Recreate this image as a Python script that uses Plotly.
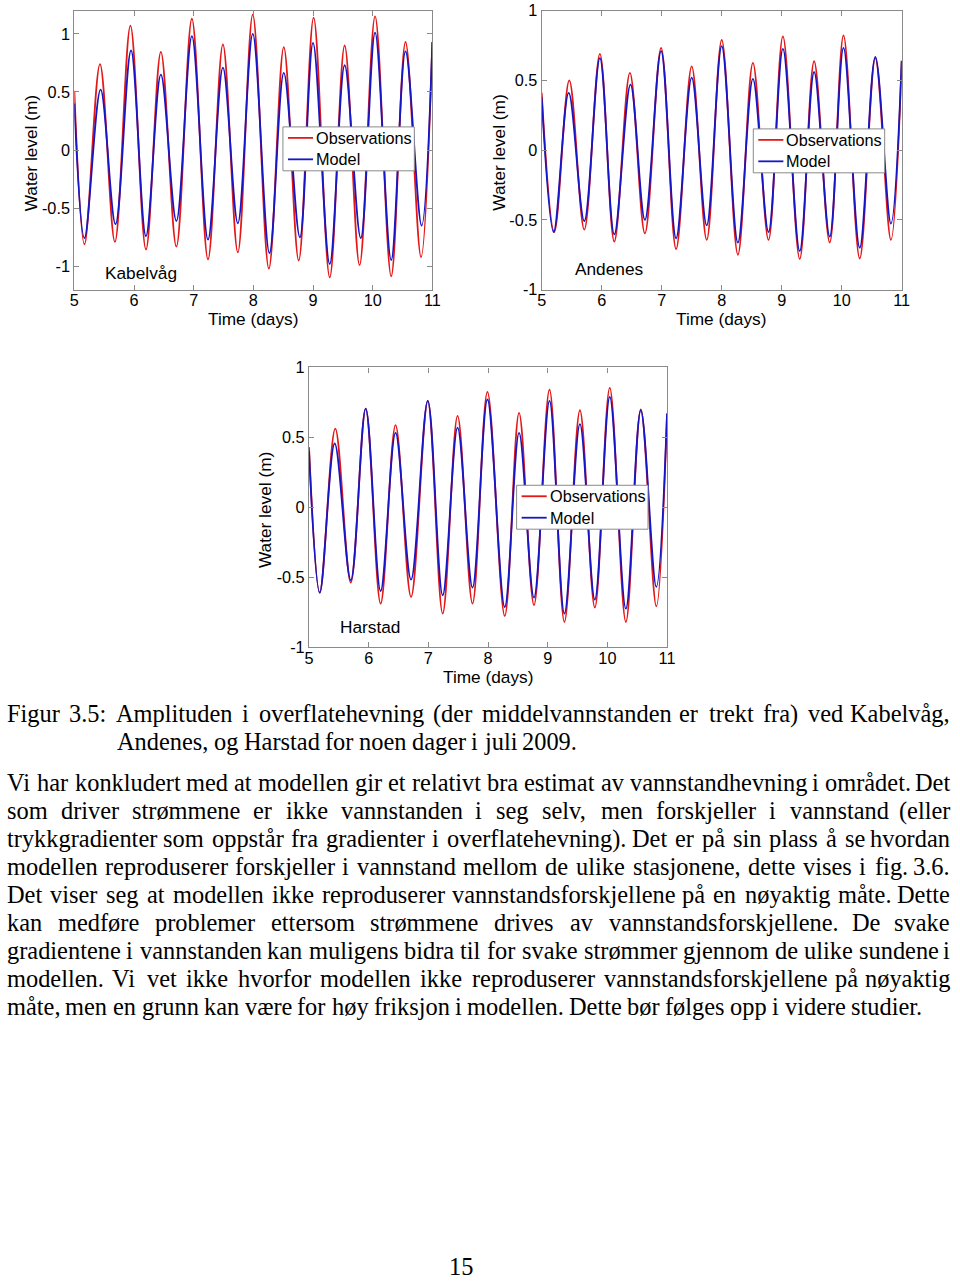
import plotly.graph_objects as go

# ---------------- data (extrema of the tidal curves) -------------
time_ticks = [5, 6, 7, 8, 9, 10, 11]
y_ticks = [-1, -0.5, 0, 0.5, 1]
y_tick_text = ["-1", "-0.5", "0", "0.5", "1"]

kab_obs_t = [5.00, 5.17, 5.43, 5.68, 5.94, 6.20, 6.45, 6.71, 6.97, 7.24, 7.49, 7.74, 7.99,
             8.26, 8.51, 8.76, 9.01, 9.28, 9.53, 9.78, 10.04, 10.31, 10.55, 10.81, 11.00]
kab_obs_v = [0.51, -0.81, 0.74, -0.79, 1.07, -0.855, 0.845, -0.83, 1.13, -0.94, 0.91, -0.88, 1.165,
             -1.02, 0.885, -0.95, 1.14, -1.095, 0.90, -0.99, 1.15, -1.085, 0.93, -0.92, 0.93]
kab_mod_t = [5.00, 5.17, 5.44, 5.69, 5.95, 6.20, 6.45, 6.71, 6.97, 7.24, 7.49, 7.74, 7.99,
             8.27, 8.51, 8.78, 9.00, 9.28, 9.53, 9.80, 10.04, 10.31, 10.55, 10.82, 11.00]
kab_mod_v = [0.40, -0.757, 0.52, -0.637, 0.857, -0.74, 0.65, -0.61, 0.98, -0.77, 0.71, -0.63, 1.00,
             -0.885, 0.665, -0.75, 0.923, -0.98, 0.73, -0.757, 1.01, -0.946, 0.85, -0.65, 0.93]

and_obs_t = [5.00, 5.21, 5.46, 5.71, 5.97, 6.21, 6.47, 6.72, 6.99, 7.24, 7.50, 7.75, 8.00,
             8.27, 8.52, 8.78, 9.02, 9.30, 9.54, 9.80, 10.03, 10.30, 10.56, 10.82, 11.00]
and_obs_v = [0.41, -0.587, 0.50, -0.57, 0.69, -0.656, 0.554, -0.597, 0.733, -0.71, 0.60, -0.644, 0.79,
             -0.75, 0.625, -0.644, 0.815, -0.78, 0.637, -0.663, 0.823, -0.777, 0.66, -0.644, 0.64]
and_mod_t = [5.00, 5.20, 5.45, 5.71, 5.97, 6.21, 6.48, 6.72, 6.99, 7.24, 7.50, 7.75, 8.00,
             8.27, 8.52, 8.78, 9.02, 9.30, 9.54, 9.80, 10.03, 10.30, 10.56, 10.82, 11.00]
and_mod_v = [0.38, -0.587, 0.41, -0.508, 0.66, -0.604, 0.47, -0.50, 0.71, -0.632, 0.52, -0.54, 0.745,
             -0.663, 0.51, -0.587, 0.725, -0.723, 0.56, -0.62, 0.733, -0.70, 0.668, -0.527, 0.64]

har_obs_t = [5.00, 5.18, 5.44, 5.70, 5.95, 6.20, 6.45, 6.71, 6.99, 7.24, 7.49, 7.74, 7.99,
             8.28, 8.52, 8.77, 9.03, 9.28, 9.54, 9.79, 10.04, 10.31, 10.56, 10.82, 11.00]
har_obs_v = [0.43, -0.611, 0.563, -0.539, 0.706, -0.69, 0.587, -0.642, 0.761, -0.761, 0.654, -0.69, 0.826,
             -0.778, 0.675, -0.70, 0.842, -0.821, 0.694, -0.718, 0.854, -0.821, 0.70, -0.709, 0.67]
har_mod_t = [5.00, 5.18, 5.43, 5.70, 5.95, 6.20, 6.45, 6.71, 6.99, 7.24, 7.49, 7.74, 7.99,
             8.28, 8.52, 8.77, 9.03, 9.28, 9.54, 9.79, 10.04, 10.31, 10.56, 10.82, 11.00]
har_mod_v = [0.40, -0.611, 0.456, -0.523, 0.706, -0.60, 0.532, -0.518, 0.761, -0.63, 0.57, -0.575, 0.771,
             -0.714, 0.532, -0.647, 0.761, -0.761, 0.594, -0.661, 0.79, -0.726, 0.694, -0.57, 0.67]

series_names = ["Observations", "Model"]

caption_lines = [
    "Figur 3.5: Amplituden i overflatehevning (der middelvannstanden er trekt fra) ved Kabelvåg,",
    "Andenes, og Harstad for noen dager i juli 2009.",
]
body_lines = [
    "Vi har konkludert med at modellen gir et relativt bra estimat av vannstandhevning i området. Det",
    "som driver strømmene er ikke vannstanden i seg selv, men forskjeller i vannstand (eller",
    "trykkgradienter som oppstår fra gradienter i overflatehevning). Det er på sin plass å se hvordan",
    "modellen reproduserer forskjeller i vannstand mellom de ulike stasjonene, dette vises i fig. 3.6.",
    "Det viser seg at modellen ikke reproduserer vannstandsforskjellene på en nøyaktig måte. Dette",
    "kan medføre problemer ettersom strømmene drives av vannstandsforskjellene. De svake",
    "gradientene i vannstanden kan muligens bidra til for svake strømmer gjennom de ulike sundene i",
    "modellen. Vi vet ikke hvorfor modellen ikke reproduserer vannstandsforskjellene på nøyaktig",
    "måte, men en grunn kan være for høy friksjon i modellen. Dette bør følges opp i videre studier.",
]
page_number = "15"

# ---------------- layout helpers ----------------
W, H = 960, 1288
# the page is shown with an 8 px body margin and the photo is fitted back to 960 x 1288,
# so picture coordinates are converted to figure coordinates here.
SX, SY = (W + 16) / W, (H + 16) / H
RED = "rgb(228,22,22)"
BLUE = "rgb(22,22,196)"
AXC = "#8a8a8a"
SANS = "Liberation Sans, Arial, sans-serif"
SERIF = "Liberation Serif, Times New Roman, serif"


def tx(x):
    return x * SX - 8


def ty(y):
    return y * SY - 8


def px(x):
    return tx(x) / W


def py(y):
    return 1 - ty(y) / H


F_TICK = 16 * SX
F_TITLE = 17 * SX

panels = [
    # name, obs_t, obs_v, mod_t, mod_v, box(l, t, r, b), yrange, legend box (l, t), label pos, ytitle x, xtitle y
    ("Kabelvåg", kab_obs_t, kab_obs_v, kab_mod_t, kab_mod_v, (77, 9.5, 434, 289), [-1.2, 1.2],
     (285, 126), (107, 272), 34, 318),
    ("Andenes", and_obs_t, and_obs_v, and_mod_t, and_mod_v, (543, 9.5, 902, 289), [-1, 1],
     (754, 128), (575, 268), 501, 318),
    ("Harstad", har_obs_t, har_obs_v, har_mod_t, har_mod_v, (311, 367, 668, 647), [-1, 1],
     (518, 485), (341, 627), 267, 677),
]
LEG_W, LEG_H = 131, 44

fig = go.Figure()
layout = dict(width=W, height=H, margin=dict(l=0, r=0, t=0, b=0),
              paper_bgcolor="white", plot_bgcolor="white", showlegend=False)
annotations = []
shapes = []

for i, (name, ot, ov, mt, mv, box, yr, lgpos, lab, ytx, xty) in enumerate(panels):
    k = "" if i == 0 else str(i + 1)
    for t, v, col, sname in ((ot, ov, RED, series_names[0]), (mt, mv, BLUE, series_names[1])):
        fig.add_trace(go.Scatter(x=t, y=v, mode="lines", name=sname,
                                 line=dict(color=col, width=1.8, shape="spline", smoothing=1.0),
                                 xaxis="x" + k, yaxis="y" + k, showlegend=False))
    l, t_, r, b = box
    common = dict(showline=True, linecolor=AXC, linewidth=1.2, mirror="ticks", ticks="inside",
                  ticklen=5, tickcolor=AXC, tickwidth=1, showgrid=False, zeroline=False,
                  tickfont=dict(family=SANS, size=F_TICK, color="black"), fixedrange=True)
    layout["xaxis" + k] = dict(domain=[px(l), px(r)], range=[5, 11], tickvals=time_ticks,
                               ticktext=[str(v) for v in time_ticks], anchor="y" + k,
                               ticklabelstandoff=-4, **common)
    layout["yaxis" + k] = dict(domain=[py(b), py(t_)], range=yr, tickvals=y_ticks,
                               ticktext=y_tick_text, anchor="x" + k, **common)
    # legend box drawn in paper space
    gl, gt = lgpos
    shapes.append(dict(type="rect", xref="paper", yref="paper", x0=px(gl), x1=px(gl + LEG_W),
                       y0=py(gt + LEG_H), y1=py(gt), line=dict(color=AXC, width=1),
                       fillcolor="white", layer="above"))
    for row, (col, sname) in enumerate(((RED, series_names[0]), (BLUE, series_names[1]))):
        yc = gt + 11 + 21.5 * row
        shapes.append(dict(type="line", xref="paper", yref="paper", x0=px(gl + 5), x1=px(gl + 30),
                           y0=py(yc), y1=py(yc), line=dict(color=col, width=1.8), layer="above"))
        annotations.append(dict(text=sname, x=px(gl + 32), y=py(yc), xref="paper", yref="paper",
                                xanchor="left", yanchor="middle", showarrow=False, borderpad=0,
                                font=dict(family=SANS, size=F_TICK, color="black")))
    annotations.append(dict(text=name, x=px(lab[0]), y=py(lab[1]), xref="paper", yref="paper",
                            xanchor="left", yanchor="middle", showarrow=False, borderpad=0,
                            font=dict(family=SANS, size=F_TITLE, color="black")))
    annotations.append(dict(text="Water level (m)", x=px(ytx), y=py((t_ + b) / 2 + 3), xref="paper",
                            yref="paper", xanchor="center", yanchor="middle", textangle=-90,
                            showarrow=False, font=dict(family=SANS, size=F_TITLE, color="black")))
    annotations.append(dict(text="Time (days)", x=px((l + r) / 2), y=py(xty), xref="paper",
                            yref="paper", xanchor="center", yanchor="middle", showarrow=False,
                            font=dict(family=SANS, size=F_TITLE, color="black")))

# ---------------- justified body text (Times metrics) ----------------
TW = {' ': 250, '(': 333, ')': 333, ',': 250, '-': 333, '.': 250, ':': 278,
      'A': 722, 'B': 667, 'C': 667, 'D': 722, 'E': 611, 'F': 556, 'G': 722, 'H': 722, 'I': 333,
      'J': 389, 'K': 722, 'L': 611, 'M': 889, 'N': 722, 'O': 722, 'P': 556, 'Q': 722, 'R': 667,
      'S': 556, 'T': 611, 'U': 722, 'V': 722, 'W': 944, 'X': 722, 'Y': 722, 'Z': 611,
      'a': 444, 'b': 500, 'c': 444, 'd': 500, 'e': 444, 'f': 333, 'g': 500, 'h': 500, 'i': 278,
      'j': 278, 'k': 500, 'l': 278, 'm': 778, 'n': 500, 'o': 500, 'p': 500, 'q': 500, 'r': 333,
      's': 389, 't': 278, 'u': 500, 'v': 500, 'w': 722, 'x': 500, 'y': 500, 'z': 444,
      'å': 444, 'ø': 500, 'æ': 667}
FS = 24.4  # figure px
TEXT_L, TEXT_R = 8.5, 951  # visible text column in the picture


def wwidth(w):
    return sum(TW.get(c, 500) for c in w) / 1000 * FS


def place_line(text, left, right, yc, justify):
    words = text.split(" ")
    widths = [wwidth(w) for w in words]
    lf, rf = tx(left), tx(right)
    if justify and len(words) > 1:
        gap = (rf - lf - sum(widths)) / (len(words) - 1)
    else:
        gap = TW[' '] / 1000 * FS
    x = lf
    for j, (w, ww) in enumerate(zip(words, widths)):
        last = justify and j == len(words) - 1
        annotations.append(dict(text=w, x=(rf if last else x) / W, y=py(yc), xref="paper",
                                yref="paper", xanchor="right" if last else "left",
                                yanchor="middle", showarrow=False, borderpad=0,
                                font=dict(family=SERIF, size=FS, color="black")))
        x += ww + gap


place_line(caption_lines[0], TEXT_L, TEXT_R, 714, True)
place_line(caption_lines[1], 119, TEXT_R, 742, False)
for n, line in enumerate(body_lines):
    place_line(line, TEXT_L, TEXT_R, 783 + 28 * n, n < len(body_lines) - 1)

annotations.append(dict(text=page_number, x=px(463), y=py(1268), xref="paper", yref="paper",
                        xanchor="center", yanchor="middle", showarrow=False,
                        font=dict(family=SERIF, size=FS, color="black")))

layout["annotations"] = annotations
layout["shapes"] = shapes
fig.update_layout(**layout)
fig.write_html("out.html")
